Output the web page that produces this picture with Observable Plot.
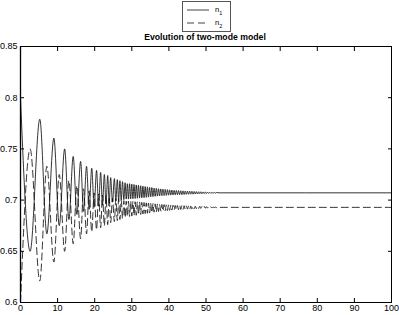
<!DOCTYPE html>
<html>
<head>
<meta charset="utf-8">
<script src="https://cdn.jsdelivr.net/npm/d3@7"></script>
<script src="https://cdn.jsdelivr.net/npm/@observablehq/plot@0.6"></script>
<style>
  html, body { margin: 0; padding: 0; background: #fff; }
  #wrap { position: relative; width: 399px; height: 315px; font-family: "Liberation Sans", Arial, sans-serif; }
  #chart { position: absolute; left: 0; top: 0; }
  #title { position: absolute; left: 0; width: 410px; top: 32px; text-align: center; font-weight: bold; font-size: 8.7px; color: #000; line-height: 10px; }
  #legend { position: absolute; left: 182px; top: 1px; width: 47px; height: 29px; border: 1px solid #555; background: #fff; font-size: 7.5px; }
  .row { position: absolute; left: 4px; height: 10px; display: flex; align-items: center; }
  .row svg { display: block; }
  .row span { margin-left: 6px; }
  .row sub { font-size: 5.5px; }
</style>
</head>
<body>
<div id="wrap">
  <div id="chart"></div>
  <div id="title"></div>
  <div id="legend"></div>
</div>
<script>
// ---- data ----
const title = "Evolution of two-mode model";
const seriesNames = ["n1", "n2"];
const xTicks = [0, 10, 20, 30, 40, 50, 60, 70, 80, 90, 100];
const yTicks = [0.6, 0.65, 0.7, 0.75, 0.8, 0.85];

// times of the successive extrema
const time = [
  0, 2.6, 5.2, 7.1, 9.0, 10.45, 11.9, 13.05, 14.2, 15.2, 16.2, 17.0, 17.8, 18.5, 19.2, 19.85,
  20.5, 21.05, 21.6, 22.1, 22.6, 23.05, 23.5, 23.9, 24.3, 24.8, 25.3, 25.7, 26.1, 26.45, 26.8,
  27.15, 27.5, 27.85, 28.2, 28.5, 28.8,
  29.1, 29.4, 29.7, 30.0, 30.3, 30.6, 30.9, 31.2, 31.5, 31.8, 32.1, 32.4, 32.7, 33.0, 33.3, 33.6,
  33.9, 34.2, 34.5, 34.8, 35.1, 35.4, 35.7, 36.0, 36.3, 36.6, 36.9, 37.2, 37.5, 37.8, 38.1, 38.4,
  38.7, 39.0, 39.3, 39.6, 39.9, 40.2, 40.5, 40.8, 41.1, 41.4, 41.7, 42.0, 42.3, 42.6, 42.9, 43.2,
  43.5, 43.8, 44.1, 44.4, 44.7, 45.0, 45.3, 45.6, 45.9, 46.2, 46.5, 46.8, 47.1, 47.4, 47.7, 48.0,
  48.3, 48.6, 48.9, 49.2, 49.5, 49.8, 50.1, 50.4, 50.7, 51.0, 51.3, 51.6, 51.9, 52.2, 52.5, 52.8,
  53.5, 100
];

const n1 = [
  0.800, 0.650, 0.779, 0.667, 0.7605, 0.675, 0.750, 0.681, 0.7426, 0.686, 0.7377, 0.689, 0.733, 0.691,
  0.731, 0.693, 0.729, 0.694, 0.727, 0.695, 0.725, 0.696, 0.724, 0.697, 0.722, 0.698, 0.721, 0.699,
  0.720, 0.6995, 0.719, 0.700, 0.718, 0.7005, 0.717, 0.701, 0.716,
  0.7010, 0.7160, 0.7012, 0.7156, 0.7014, 0.7152, 0.7016, 0.7148, 0.7018, 0.7144, 0.7020, 0.7140,
  0.7022, 0.7136, 0.7024, 0.7132, 0.7027, 0.7129, 0.7029, 0.7125, 0.7032, 0.7122, 0.7034, 0.7118,
  0.7037, 0.7115, 0.7039, 0.7111, 0.7041, 0.7109, 0.7043, 0.7107, 0.7044, 0.7104, 0.7046, 0.7102,
  0.7048, 0.7100, 0.7049, 0.7097, 0.7051, 0.7095, 0.7052, 0.7094, 0.7053, 0.7093, 0.7053, 0.7091,
  0.7054, 0.7090, 0.7055, 0.7089, 0.7056, 0.7088, 0.7057, 0.7087, 0.7058, 0.7086, 0.7058, 0.7084,
  0.7059, 0.7083, 0.7060, 0.7082, 0.7061, 0.7081, 0.7062, 0.7080, 0.7063, 0.7079, 0.7064, 0.7078,
  0.7065, 0.7077, 0.7066, 0.7076, 0.7067, 0.7075, 0.7068, 0.7074,
  0.7071, 0.7071
];

const n2 = [
  0.600, 0.750, 0.621, 0.733, 0.6395, 0.725, 0.650, 0.719, 0.6574, 0.714, 0.6623, 0.711, 0.667, 0.709,
  0.669, 0.707, 0.671, 0.706, 0.673, 0.705, 0.675, 0.704, 0.676, 0.703, 0.678, 0.702, 0.679, 0.701,
  0.680, 0.7005, 0.681, 0.700, 0.682, 0.6995, 0.683, 0.699, 0.684,
  0.6990, 0.6840, 0.6988, 0.6844, 0.6986, 0.6848, 0.6984, 0.6852, 0.6982, 0.6856, 0.6980, 0.6860,
  0.6978, 0.6864, 0.6976, 0.6868, 0.6973, 0.6871, 0.6971, 0.6875, 0.6968, 0.6878, 0.6966, 0.6882,
  0.6963, 0.6885, 0.6961, 0.6889, 0.6959, 0.6891, 0.6957, 0.6893, 0.6956, 0.6896, 0.6954, 0.6898,
  0.6952, 0.6900, 0.6951, 0.6903, 0.6949, 0.6905, 0.6948, 0.6906, 0.6947, 0.6907, 0.6947, 0.6909,
  0.6946, 0.6910, 0.6945, 0.6911, 0.6944, 0.6912, 0.6943, 0.6913, 0.6942, 0.6914, 0.6942, 0.6916,
  0.6941, 0.6917, 0.6940, 0.6918, 0.6939, 0.6919, 0.6938, 0.6920, 0.6937, 0.6921, 0.6936, 0.6922,
  0.6935, 0.6923, 0.6934, 0.6924, 0.6933, 0.6925, 0.6932, 0.6926,
  0.6929, 0.6929
];

// ---- build table ----
const data = time.map((t, i) => ({t, n1: n1[i], n2: n2[i]}));
const lineColor = "#111";
const dash = "7,4";
const blank = () => "";

const chart = Plot.plot({
  width: 399,
  height: 315,
  marginLeft: 20,
  marginRight: 8,
  marginTop: 46,
  marginBottom: 13,
  style: {fontFamily: "'Liberation Sans', Arial, sans-serif", fontSize: "9px", background: "#fff", color: "#000"},
  x: {domain: [0, 100]},
  y: {domain: [0.6, 0.85]},
  marks: [
    Plot.ruleX([0], {stroke: "#999", strokeWidth: 1.8}),
    Plot.line(data, {x: "t", y: "n1", curve: "monotone-x", stroke: lineColor, strokeWidth: 0.85}),
    Plot.line(data, {x: "t", y: "n2", curve: "monotone-x", stroke: lineColor, strokeWidth: 0.85, strokeDasharray: dash}),
    Plot.axisX({anchor: "bottom", ticks: xTicks, tickSize: -4, tickFormat: blank, label: null}),
    Plot.axisX({anchor: "top", ticks: xTicks, tickSize: -4, tickFormat: blank, label: null}),
    Plot.axisY({anchor: "left", ticks: yTicks, tickSize: -4, tickFormat: blank, label: null}),
    Plot.axisY({anchor: "right", ticks: yTicks, tickSize: -4, tickFormat: blank, label: null}),
    Plot.axisX({anchor: "bottom", ticks: xTicks, tickSize: 0, tickPadding: 2, label: null, tickFormat: d => String(d)}),
    Plot.axisY({anchor: "left", ticks: yTicks, tickSize: 0, tickPadding: 3, label: null, tickFormat: d => String(d)}),
    Plot.frame({stroke: "#000", strokeWidth: 1})
  ]
});
document.getElementById("chart").appendChild(chart);
document.getElementById("title").textContent = title;

// legend
const legend = document.getElementById("legend");
seriesNames.forEach((name, i) => {
  const row = document.createElement("div");
  row.className = "row";
  row.style.top = (3 + i * 13) + "px";
  const svg = d3.create("svg").attr("width", 22).attr("height", 4);
  svg.append("line").attr("x1", 0).attr("x2", 22).attr("y1", 2).attr("y2", 2)
    .attr("stroke", lineColor).attr("stroke-width", 0.8)
    .attr("stroke-dasharray", i === 1 ? dash : null);
  row.appendChild(svg.node());
  const span = document.createElement("span");
  span.innerHTML = name[0] + "<sub>" + name.slice(1) + "</sub>";
  row.appendChild(span);
  legend.appendChild(row);
});
</script>
</body>
</html>
